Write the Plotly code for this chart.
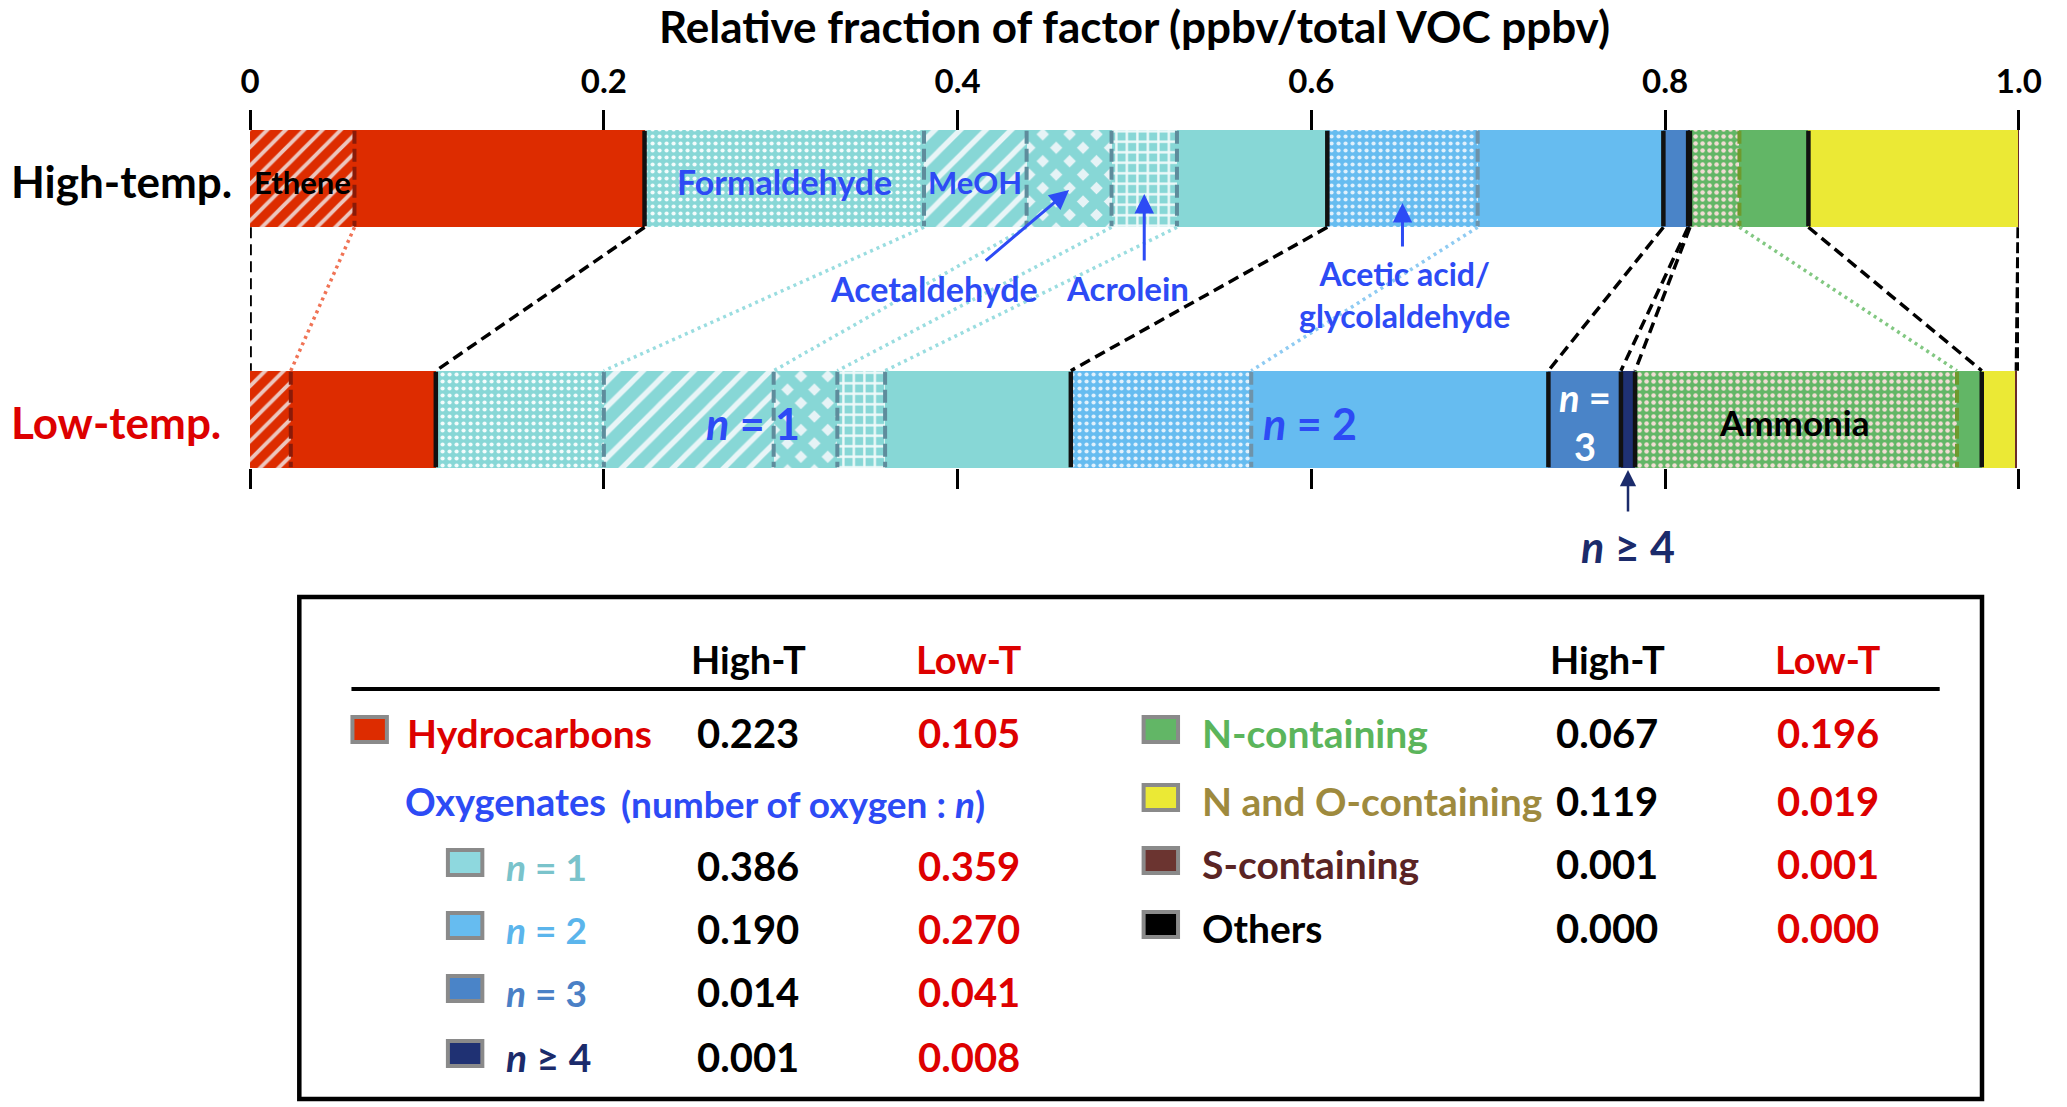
import numpy as np
import plotly.graph_objects as go

# ---------------- data ----------------
factors = ["High-temp.", "Low-temp."]

# group fractions  [High-T, Low-T]
hydrocarbons  = [0.223, 0.105]
oxygenates_n1 = [0.386, 0.359]
oxygenates_n2 = [0.190, 0.270]
oxygenates_n3 = [0.014, 0.041]
oxygenates_n4 = [0.001, 0.008]
n_containing  = [0.067, 0.196]
no_containing = [0.119, 0.019]
s_containing  = [0.001, 0.001]
others        = [0.000, 0.000]

# highlighted species inside the groups [High-T, Low-T]
ethene       = [0.059, 0.023]
formaldehyde = [0.158, 0.095]
methanol     = [0.058, 0.096]
acetaldehyde = [0.048, 0.036]
acrolein     = [0.037, 0.027]
acetic_acid  = [0.085, 0.102]
ammonia      = [0.028, 0.182]

tick_values = [0, 0.2, 0.4, 0.6, 0.8, 1.0]
tick_labels = ["0", "0.2", "0.4", "0.6", "0.8", "1.0"]

# ---------------- geometry / style constants ----------------
W, H = 2067, 1107
FONT = "Lato"
AX0, AX1 = 244.0, 2041.5          # pixel x of 0 and 1
BAR_Y = [178.5, 419.5]            # pixel centre of each bar
BAR_H = 97.5
TOP = [y - BAR_H / 2 for y in BAR_Y]
BOT = [y + BAR_H / 2 for y in BAR_Y]

RED_BAR = "#DD2C00"
TEAL = "#87D7D6"
BLUE2 = "#66BCF0"
BLUE3 = "#4A84C8"
NAVY = "#1F3173"
GREEN = "#62B666"
YELLOW = "#EBE935"
MAROON = "#6B2B2B"
LBLUE = "#2D4BF5"
RED_TXT = "#DD0000"


def arr(a):
    return np.array(a, dtype=float)


hc_rest = arr(hydrocarbons) - arr(ethene)
n1_rest = arr(oxygenates_n1) - arr(formaldehyde) - arr(methanol) - arr(acetaldehyde) - arr(acrolein)
n2_rest = arr(oxygenates_n2) - arr(acetic_acid)
n_rest = arr(n_containing) - arr(ammonia)

SUB_TEAL = ("sub", "#5E8C9C", "#9ADDE0")
segs = [
    dict(v=ethene, c=RED_BAR, p=dict(shape="/", fg="#ECC6BE", size=13, sol=0.3), sep=("sub", "#8A1A08", "#F07355")),
    dict(v=hc_rest, c=RED_BAR, sep=("group",)),
    dict(v=formaldehyde, c=TEAL, p=dict(shape=".", fg="#F4FCFC", size=7, sol=0.28), sep=SUB_TEAL),
    dict(v=methanol, c=TEAL, p=dict(shape="/", fg="#E8F5F7", size=18, sol=0.3), sep=SUB_TEAL),
    dict(v=acetaldehyde, c=TEAL, p=dict(shape="x", fg=TEAL, bg="#E6F3F6", size=19, sol=0.78), sep=SUB_TEAL),
    dict(v=acrolein, c=TEAL, p=dict(shape="+", fg="#F0FAFA", size=10.5, sol=0.4), sep=SUB_TEAL),
    dict(v=n1_rest, c=TEAL, sep=("group",)),
    dict(v=acetic_acid, c=BLUE2, p=dict(shape=".", fg="#E2F1FC", size=7, sol=0.28), sep=("sub", "#6E93AA", "#8FCBF2")),
    dict(v=n2_rest, c=BLUE2, sep=("group",)),
    dict(v=oxygenates_n3, c=BLUE3, sep=("group",)),
    dict(v=oxygenates_n4, c=NAVY, sep=("group",)),
    dict(v=ammonia, c=GREEN, p=dict(shape=".", fg="#F2DCD4", size=7, sol=0.33), sep=("sub", "#6E9A2E", "#82C882")),
    dict(v=n_rest, c=GREEN, sep=("group",)),
    dict(v=no_containing, c=YELLOW, sep=None),
    dict(v=s_containing, c=MAROON, sep=None),
    dict(v=others, c="#000000", sep=None),
]

vals = np.array([arr(s["v"]) for s in segs])
ends = np.cumsum(vals, axis=0)
starts = ends - vals

fig = go.Figure()
for s, v in zip(segs, vals):
    marker = dict(color=s["c"], line=dict(width=0))
    if "p" in s:
        p = s["p"]
        marker["pattern"] = dict(shape=p["shape"], fgcolor=p["fg"], bgcolor=p.get("bg", s["c"]),
                                 size=p["size"], solidity=p["sol"], fillmode="replace")
    fig.add_trace(go.Bar(x=list(v), y=BAR_Y, width=BAR_H, orientation="h", marker=marker,
                         showlegend=False, hoverinfo="skip", xaxis="x", yaxis="y"))

# dummy trace so the bottom tick axis is drawn
fig.add_trace(go.Scatter(x=[None], y=[None], xaxis="x2", yaxis="y", showlegend=False, hoverinfo="skip"))

shapes = []
# separators inside bars and connector lines between the bars
for i, s in enumerate(segs):
    sep = s["sep"]
    if sep is None:
        continue
    for b in range(2):
        xb = ends[i][b]
        if sep[0] == "group":
            line = dict(color="#111111", width=4.5)
        else:
            line = dict(color=sep[1], width=4, dash="13px,5px")
        shapes.append(dict(type="line", xref="x", yref="y", x0=xb, x1=xb, y0=TOP[b] + 1, y1=BOT[b] - 1,
                           line=line, layer="above"))
    if sep[0] == "group":
        cl = dict(color="black", width=3.5, dash="11px,6px")
    else:
        cl = dict(color=sep[2], width=3.5, dash="3px,4px")
    shapes.append(dict(type="line", xref="x", yref="y", x0=ends[i][0], y0=BOT[0], x1=ends[i][1], y1=TOP[1],
                       line=cl, layer="above"))

# outer edges
shapes.append(dict(type="line", xref="x", yref="y", x0=0, x1=0, y0=BOT[0], y1=TOP[1],
                   line=dict(color="black", width=3.5, dash="11px,6px")))
shapes.append(dict(type="line", xref="x", yref="y", x0=min(ends[-1][0], 1.0), x1=min(ends[-1][1], 1.0),
                   y0=BOT[0], y1=TOP[1], line=dict(color="black", width=5, dash="11px,4px")))

annotations = []


def ann(text, x, y, size, color="black", xref="paper", xanchor="center", **kw):
    annotations.append(dict(text=text, x=x, y=y, xref=xref, yref="y", xanchor=xanchor, yanchor="middle",
                            showarrow=False, borderpad=0,
                            font=dict(family=FONT, size=size, color=color, weight="bold"), **kw))


def arrow(xh, yh, yt, color, xt=None, width=3):
    annotations.append(dict(text="", x=xh, y=yh, xref="x", yref="y", ax=xh if xt is None else xt, ay=yt,
                            axref="x", ayref="y", showarrow=True, arrowhead=2, arrowsize=1.3,
                            arrowwidth=width, arrowcolor=color, standoff=0, startstandoff=0))


def mid(i, b):
    return (starts[i][b] + ends[i][b]) / 2


def px2x(p):
    return (p - AX0) / (AX1 - AX0)


# title and row labels
ann("Relative fraction of factor (ppbv/total VOC ppbv)", ((AX0 + AX1) / 2) / W, 26, 44)
ann(factors[0], 0, BAR_Y[0] + 2, 44, xanchor="left")
ann(factors[1], 0, BAR_Y[1] + 2, 44, color=RED_TXT, xanchor="left")

# labels inside the bars
ann("Ethene", mid(0, 0), BAR_Y[0] + 3, 31, xref="x")
ann("Formaldehyde", mid(2, 0), BAR_Y[0] + 3, 34, color=LBLUE, xref="x")
ann("MeOH", mid(3, 0), BAR_Y[0] + 3, 31, color=LBLUE, xref="x")
ann("<i>n</i> = 1", (ends[1][1] + ends[6][1]) / 2, BAR_Y[1] + 4, 43, color=LBLUE, xref="x")
ann("<i>n</i> = 2", (ends[6][1] + ends[8][1]) / 2, BAR_Y[1] + 4, 43, color=LBLUE, xref="x")
ann("<i>n</i> =<br>3", mid(9, 1), BAR_Y[1] + 2, 38, color="white", xref="x")
ann("Ammonia", mid(11, 1) - 0.001, BAR_Y[1] + 2, 35, xref="x")

# call-out labels with arrows
ann("Acetaldehyde", 939 / W, 288, 34, color=LBLUE)
arrow(mid(4, 0), 190, 262, LBLUE, xt=px2x(990))
ann("Acrolein", 1136 / W, 288, 33, color=LBLUE)
arrow(mid(5, 0), 194, 262, LBLUE)
ann("Acetic acid/<br>glycolaldehyde", 1417 / W, 294, 32, color=LBLUE)
arrow(mid(7, 0), 203, 248, LBLUE)
ann("<i>n</i> ≥ 4", mid(10, 1), 546, 43, color="#1B2B6B", xref="x")
arrow(mid(10, 1), 470, 513, "#1B2B6B", width=2.5)

# ---------------- summary table ----------------
shapes.append(dict(type="rect", xref="paper", yref="y", x0=294 / W, x1=2004 / W, y0=597, y1=1099,
                   line=dict(color="black", width=4.5)))
shapes.append(dict(type="line", xref="paper", yref="y", x0=347 / W, x1=1961 / W, y0=689, y1=689,
                   line=dict(color="black", width=4)))
for cx, txt, col in [(750, "High-T", "black"), (975, "Low-T", RED_TXT),
                     (1623, "High-T", "black"), (1848, "Low-T", RED_TXT)]:
    ann(txt, cx / W, 659, 38, color=col)


def table_row(label, values, y, sq_x, txt_x, txt_col, sq_col, hi_x, lo_x, size=39):
    shapes.append(dict(type="rect", xref="paper", yref="y", x0=(sq_x + 2) / W, x1=(sq_x + 37) / W,
                       y0=y - 16, y1=y + 9, fillcolor=sq_col, line=dict(color="#8A8A8A", width=4)))
    ann(label, txt_x / W, y, size, color=txt_col, xanchor="left")
    ann(f"{values[0]:.3f}", hi_x / W, y, 40, color="black")
    ann(f"{values[1]:.3f}", lo_x / W, y, 40, color=RED_TXT)


table_row("Hydrocarbons", hydrocarbons, 733, 346, 402, RED_TXT, RED_BAR, 750, 975)
ann("Oxygenates", 400 / W, 801, 38, color=LBLUE, xanchor="left")
ann("(number of oxygen : <i>n</i>)", 620 / W, 803, 37, color=LBLUE, xanchor="left")
table_row("<i>n</i> = 1", oxygenates_n1, 866, 443, 503, "#7AC3CB", "#8ED8DE", 750, 975, 37)
table_row("<i>n</i> = 2", oxygenates_n2, 929, 443, 503, "#5BB5EC", BLUE2, 750, 975, 37)
table_row("<i>n</i> = 3", oxygenates_n3, 992, 443, 503, "#4A80C6", BLUE3, 750, 975, 37)
table_row("<i>n</i> ≥ 4", oxygenates_n4, 1057, 443, 503, "#1B2B6B", NAVY, 750, 975, 39)

table_row("N-containing", n_containing, 733, 1150, 1210, "#5BB55B", GREEN, 1623, 1848)
table_row("N and O-containing", no_containing, 801, 1150, 1210, "#9E8A3E", YELLOW, 1623, 1848)
table_row("S-containing", s_containing, 864, 1150, 1210, "#5A2424", "#6B3430", 1623, 1848)
table_row("Others", others, 928, 1150, 1210, "black", "black", 1623, 1848)

tickfont = dict(family=FONT, size=33, color="black", weight="bold")
fig.update_layout(
    width=W, height=H,
    margin=dict(l=0, r=0, t=0, b=0, pad=0),
    paper_bgcolor="white", plot_bgcolor="rgba(0,0,0,0)",
    barmode="stack",
    showlegend=False,
    xaxis=dict(domain=[AX0 / W, AX1 / W], range=[0, 1], anchor="free", position=1 - TOP[0] / H,
               side="top", tickvals=tick_values, ticktext=tick_labels, ticks="outside", ticklen=20,
               tickwidth=3, tickcolor="black", tickfont=tickfont, ticklabelstandoff=4,
               showgrid=False, zeroline=False, showline=False, fixedrange=True),
    xaxis2=dict(domain=[AX0 / W, AX1 / W], range=[0, 1], matches="x", overlaying="x", anchor="free",
                position=1 - BOT[1] / H, side="bottom", tickvals=tick_values, ticks="outside", ticklen=20,
                tickwidth=3, tickcolor="black", showticklabels=False, showgrid=False, zeroline=False,
                showline=False, fixedrange=True),
    yaxis=dict(domain=[0, 1], range=[H, 0], visible=False, fixedrange=True),
    shapes=shapes,
    annotations=annotations,
)

fig.write_html("out.html", config={"displayModeBar": False},
               post_script="document.body.style.margin='0';document.body.style.overflow='hidden';")
